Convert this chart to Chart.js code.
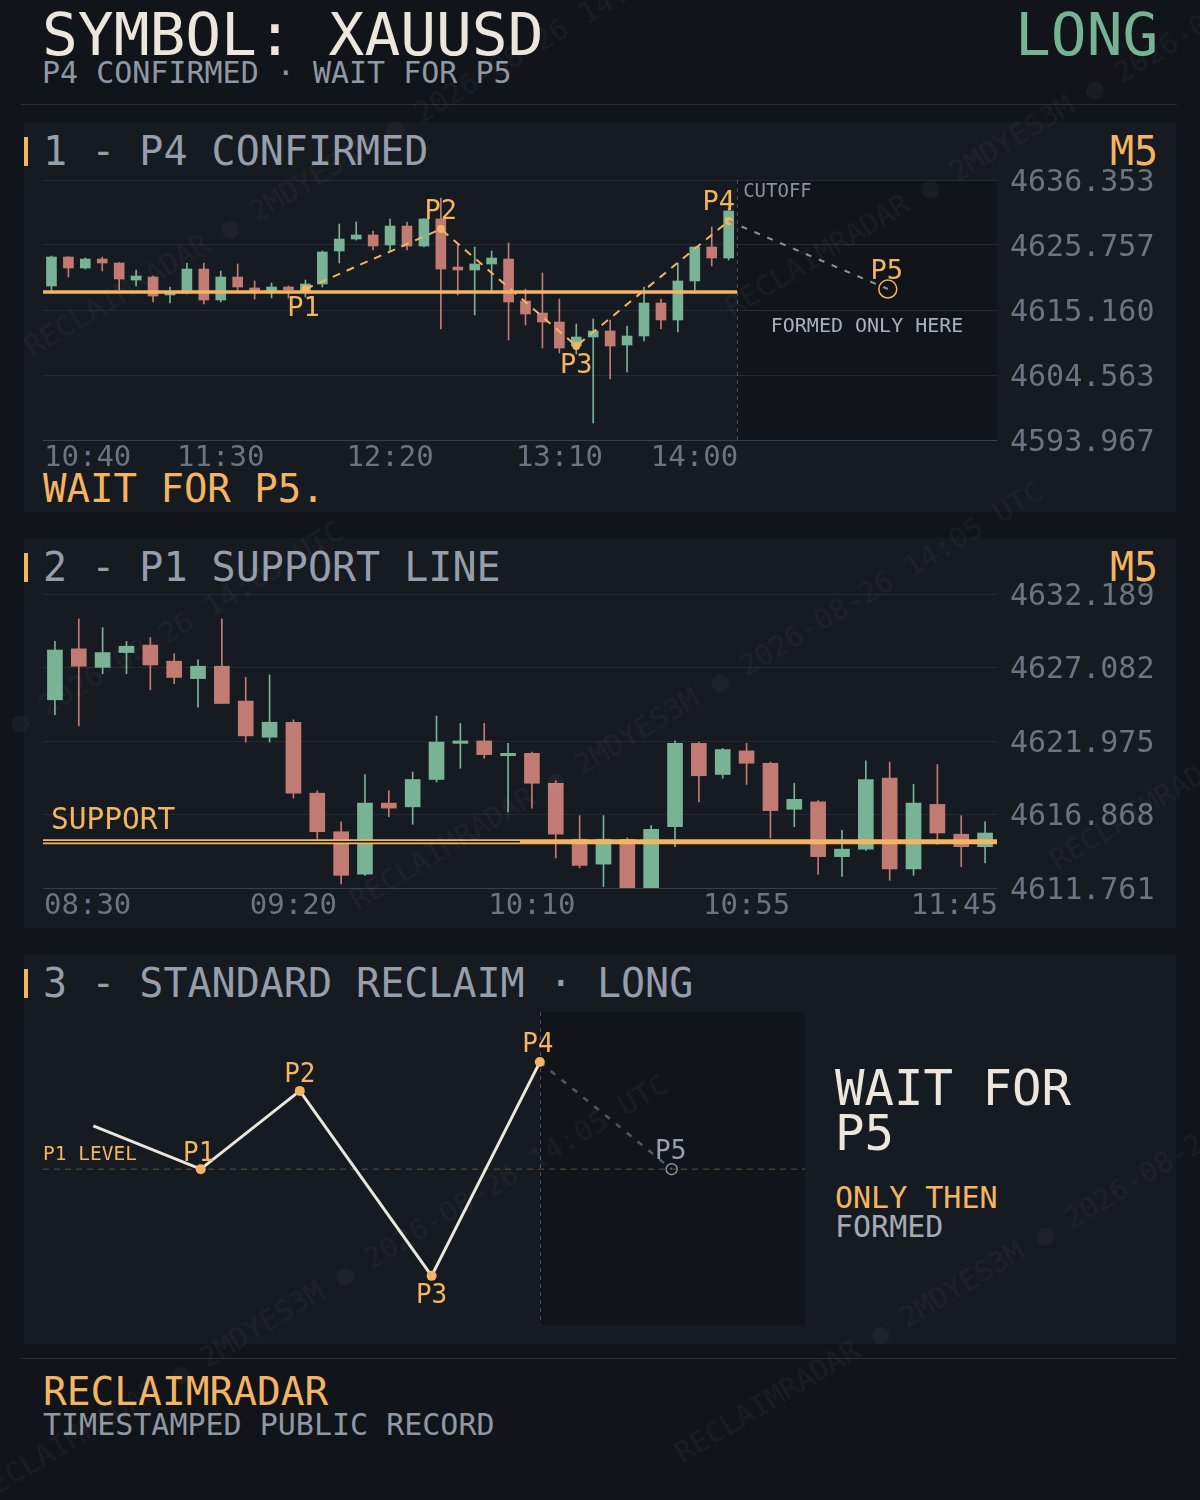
<!DOCTYPE html>
<html>
<head>
<meta charset="utf-8">
<script src="https://cdn.jsdelivr.net/npm/chart.js@4.4.1/dist/chart.umd.min.js"></script>
<style>
  body { margin:0; width:1200px; height:1500px; background:#111419; position:relative; overflow:hidden;
         font-family:"DejaVu Sans Mono", monospace; }
  .t { position:absolute; white-space:pre; }
  .panel { position:absolute; left:24px; width:1152px; height:390px; background:#161a21; }
  .bar { position:absolute; left:24px; width:4px; height:29px; background:#f4b562; }
  .rule { position:absolute; left:21px; width:1156px; height:1px; background:#2a2e35; }
  canvas { position:absolute; }
  #wm span { position:absolute; font-size:29px; line-height:29px; color:rgba(255,255,255,0.035);
             white-space:pre; transform:rotate(-31deg); transform-origin:0 0; }
</style>
</head>
<body>

<div class="t" style="left:42px;top:5px;font-size:59.5px;line-height:59.5px;color:#ece6dc">SYMBOL: XAUUSD</div>
<div class="t" style="left:1015px;top:5px;font-size:59.5px;line-height:59.5px;color:#76b393">LONG</div>
<div class="t" style="left:42px;top:58px;font-size:30px;line-height:30px;color:#8f98a4">P4 CONFIRMED · WAIT FOR P5</div>
<div class="rule" style="top:104px"></div>

<div class="panel" style="top:122px"></div>
<div class="panel" style="top:538px"></div>
<div class="panel" style="top:954px"></div>

<div class="bar" style="top:137px"></div>
<div class="t" style="left:43px;top:131px;font-size:40px;line-height:40px;color:#959eaa">1 - P4 CONFIRMED</div>
<div class="t" style="left:1110px;top:131px;font-size:40px;line-height:40px;color:#f4b562">M5</div>
<div class="t" style="left:43px;top:469px;font-size:39px;line-height:39px;color:#f4b562">WAIT FOR P5.</div>

<div class="bar" style="top:553px"></div>
<div class="t" style="left:43px;top:547px;font-size:40px;line-height:40px;color:#959eaa">2 - P1 SUPPORT LINE</div>
<div class="t" style="left:1110px;top:547px;font-size:40px;line-height:40px;color:#f4b562">M5</div>

<div class="bar" style="top:969px"></div>
<div class="t" style="left:43px;top:963px;font-size:40px;line-height:40px;color:#959eaa">3 - STANDARD RECLAIM · LONG</div>
<div class="t" style="left:835px;top:1066px;font-size:49px;line-height:45px;color:#ece6dc">WAIT FOR
P5</div>
<div class="t" style="left:835px;top:1183px;font-size:30px;line-height:30px;color:#f4b562">ONLY THEN</div>
<div class="t" style="left:835px;top:1212px;font-size:30px;line-height:30px;color:#a3abb6">FORMED</div>

<div class="rule" style="top:1358px"></div>
<div class="t" style="left:43px;top:1372px;font-size:39.5px;line-height:39.5px;color:#f4b562">RECLAIMRADAR</div>
<div class="t" style="left:43px;top:1410px;font-size:30px;line-height:30px;color:#8f98a4">TIMESTAMPED PUBLIC RECORD</div>

<canvas id="c1" width="1152" height="341" style="left:24px;top:149px"></canvas>
<canvas id="c2" width="1152" height="359" style="left:24px;top:563px"></canvas>
<canvas id="c3" width="800" height="340" style="left:24px;top:1000px"></canvas>

<div id="wm">
  <span style="left:20px;top:337px">RECLAIMRADAR ● 2MDYES3M ● 2026-08-26 14:05 UTC</span>
  <span style="left:720px;top:297px">RECLAIMRADAR ● 2MDYES3M ● 2026-08-26 14:05 UTC</span>
  <span style="left:345px;top:890px">RECLAIMRADAR ● 2MDYES3M ● 2026-08-26 14:05 UTC</span>
  <span style="left:1045px;top:850px">RECLAIMRADAR ● 2MDYES3M ● 2026-08-26 14:05 UTC</span>
  <span style="left:-355px;top:930px">RECLAIMRADAR ● 2MDYES3M ● 2026-08-26 14:05 UTC</span>
  <span style="left:670px;top:1443px">RECLAIMRADAR ● 2MDYES3M ● 2026-08-26 14:05 UTC</span>
  <span style="left:-30px;top:1483px">RECLAIMRADAR ● 2MDYES3M ● 2026-08-26 14:05 UTC</span>
</div>

<script>
const GREEN = '#78b396', RED = '#c27b73', ORANGE = '#f4b562';
const GRID = '#252a31', AXIS = '#3a3f46', TICK = '#6b7480';
const MONO = '"DejaVu Sans Mono", monospace';

// ---- panel 1: P4 confirmed (M5, 10:40 -> 14:00) ----
const p1Times = ['10:40', '11:30', '12:20', '13:10', '14:00'];
const p1TimeIdx = [0, 10, 20, 30, 40];
const p1Ticks = [4593.967, 4604.563, 4615.160, 4625.757, 4636.353];
// [open, high, low, close]
const p1Ohlc = [
  [4619.07, 4623.96, 4617.93, 4623.80], [4623.80, 4623.85, 4620.54, 4622.01],
  [4622.01, 4623.64, 4621.84, 4623.47], [4623.47, 4623.80, 4621.52, 4622.82],
  [4622.82, 4622.90, 4618.42, 4620.21], [4620.05, 4621.68, 4619.07, 4620.70],
  [4620.54, 4620.70, 4616.46, 4617.44], [4617.61, 4618.91, 4616.30, 4617.93],
  [4617.93, 4622.82, 4617.77, 4621.84], [4621.84, 4622.82, 4616.14, 4616.79],
  [4616.79, 4621.52, 4616.46, 4620.54], [4620.54, 4622.66, 4618.09, 4618.91],
  [4618.75, 4619.89, 4616.95, 4618.09], [4618.09, 4619.56, 4617.12, 4618.91],
  [4618.91, 4619.07, 4617.12, 4618.42], [4618.09, 4620.05, 4617.28, 4619.40],
  [4619.40, 4624.78, 4618.91, 4624.62], [4624.78, 4629.18, 4622.82, 4626.73],
  [4626.73, 4629.51, 4626.57, 4627.39], [4627.39, 4628.04, 4624.94, 4625.59],
  [4625.76, 4630.00, 4624.62, 4628.85], [4628.85, 4629.51, 4624.94, 4625.59],
  [4625.59, 4630.05, 4625.43, 4630.00], [4630.00, 4633.42, 4612.06, 4621.84],
  [4622.17, 4625.76, 4617.61, 4621.68], [4621.68, 4625.43, 4614.34, 4622.66],
  [4622.66, 4624.78, 4618.09, 4623.64], [4623.47, 4626.08, 4610.27, 4616.46],
  [4616.63, 4618.58, 4612.71, 4614.51], [4614.67, 4621.19, 4608.96, 4613.20],
  [4613.20, 4616.95, 4608.15, 4608.96], [4609.29, 4612.88, 4607.99, 4610.76],
  [4610.76, 4613.69, 4596.74, 4611.74], [4611.74, 4613.53, 4603.91, 4609.29],
  [4609.45, 4612.55, 4605.05, 4610.92], [4610.92, 4618.91, 4610.11, 4616.30],
  [4616.30, 4616.95, 4612.06, 4613.53], [4613.53, 4622.82, 4611.57, 4619.89],
  [4619.89, 4625.43, 4617.93, 4625.43], [4625.43, 4628.69, 4622.33, 4623.64],
  [4623.64, 4631.79, 4623.31, 4631.30]
];
const p1Support = 4618.09;
const p1Cutoff = 40.5;
const p1PivotLbl = ['P1', 'P2', 'P3', 'P4'];
const p1PivotIdx = [15, 23, 31, 40];
const p1PivotVal = [4618.58, 4628.37, 4609.29, 4629.67];
const p1P5Idx = 49.4;
const p1P5Val = 4618.58;

// ---- panel 2: P1 support line (M5, 08:30 -> 11:45) ----
const p2Times = ['08:30', '09:20', '10:10', '10:55', '11:45'];
const p2TimeIdx = [0, 10, 20, 29, 39];
const p2Ticks = [4611.761, 4616.868, 4621.975, 4627.082, 4632.189];
const p2Ohlc = [
  [4624.84, 4628.90, 4623.80, 4628.30], [4628.38, 4630.46, 4623.02, 4627.17],
  [4627.09, 4629.85, 4626.65, 4628.12], [4628.12, 4628.90, 4626.65, 4628.56],
  [4628.64, 4629.16, 4625.53, 4627.26], [4627.52, 4628.04, 4625.96, 4626.39],
  [4626.31, 4627.61, 4624.32, 4627.17], [4627.17, 4630.46, 4624.58, 4624.58],
  [4624.75, 4626.39, 4621.90, 4622.33], [4622.24, 4626.57, 4621.90, 4623.28],
  [4623.28, 4623.45, 4618.01, 4618.35], [4618.35, 4618.52, 4614.89, 4615.67],
  [4615.67, 4616.36, 4612.04, 4612.64], [4612.73, 4619.65, 4612.64, 4617.66],
  [4617.66, 4618.52, 4616.71, 4617.31], [4617.40, 4619.82, 4616.19, 4619.30],
  [4619.30, 4623.71, 4619.13, 4621.90], [4621.81, 4623.19, 4620.08, 4621.98],
  [4621.98, 4623.19, 4620.77, 4621.03], [4620.95, 4621.81, 4617.05, 4621.12],
  [4621.12, 4621.20, 4617.31, 4619.04], [4619.04, 4619.22, 4613.85, 4615.50],
  [4615.15, 4616.79, 4613.16, 4613.33], [4613.42, 4616.79, 4611.86, 4615.15],
  [4615.15, 4615.24, 4608.40, 4610.31], [4610.57, 4616.10, 4610.05, 4615.84],
  [4616.02, 4621.98, 4614.63, 4621.81], [4621.81, 4621.90, 4617.75, 4619.56],
  [4619.65, 4621.46, 4619.39, 4621.38], [4621.29, 4621.81, 4618.96, 4620.43],
  [4620.43, 4620.51, 4615.24, 4617.14], [4617.23, 4619.04, 4616.02, 4617.92],
  [4617.75, 4617.83, 4612.73, 4613.94], [4613.94, 4615.76, 4612.56, 4614.46],
  [4614.46, 4620.60, 4614.37, 4619.30], [4619.39, 4620.51, 4612.30, 4613.08],
  [4613.08, 4618.96, 4612.64, 4617.66], [4617.57, 4620.34, 4614.80, 4615.58],
  [4615.50, 4616.79, 4613.25, 4614.63], [4614.63, 4616.36, 4613.51, 4615.58]
];
const p2Support = 4614.98;
const p2HollowEnd = 19.5;

// ---- panel 3: standard reclaim schematic ----
const p3Lbl = ['', 'P1', 'P2', 'P3', 'P4'];
const p3X = [6.6, 20.7, 33.7, 51.0, 65.2];
const p3Y = [63.6, 49.8, 74.8, 15.7, 84.0];
const p3P5 = [82.5, 49.8];
const p3Level = 49.8;

function candleSets(ohlc, bodyW) {
  const col = ohlc.map(c => c[3] >= c[0] ? GREEN : RED);
  return [
    { type: 'bar', label: 'wick', data: ohlc.map((c, i) => ({ x: i, y: [c[2], c[1]] })),
      backgroundColor: col, barThickness: 1, grouped: false, order: 4 },
    { type: 'bar', label: 'body', data: ohlc.map((c, i) => ({ x: i, y: [c[0], c[3]] })),
      backgroundColor: col, barThickness: bodyW, minBarLength: 2, grouped: false, order: 3 }
  ];
}

function priceAxis(ticks) {
  return {
    position: 'right', min: ticks[0], max: ticks[ticks.length - 1], beginAtZero: false,
    afterBuildTicks: s => { s.ticks = ticks.map(v => ({ value: v })); },
    afterFit: s => { s.width = 179; },
    grid: { color: c => c.index === 0 ? AXIS : GRID, drawTicks: false, lineWidth: 1 },
    border: { display: false },
    ticks: { color: TICK, padding: 13, labelOffset: 3, font: { family: MONO, size: 30 },
             callback: v => v.toFixed(3) }
  };
}

function drawTimeLabels(chart, idx, lbls, rightLimit) {
  const { ctx, chartArea: a, scales: { x } } = chart;
  ctx.save();
  ctx.font = '29px ' + MONO;
  ctx.fillStyle = TICK;
  ctx.textBaseline = 'middle';
  idx.forEach((v, i) => {
    const w = ctx.measureText(lbls[i]).width;
    let px = x.getPixelForValue(v) - w / 2;
    px = Math.max(a.left + 1, Math.min(px, rightLimit - w));
    ctx.fillText(lbls[i], px, a.bottom + 18);
  });
  ctx.restore();
}

function metaOf(chart, label) {
  const i = chart.data.datasets.findIndex(d => d.label === label);
  return chart.getDatasetMeta(i);
}

function text(ctx, s, x, y, size, color, align) {
  ctx.font = size + 'px ' + MONO;
  ctx.fillStyle = color;
  ctx.textAlign = align || 'center';
  ctx.textBaseline = 'middle';
  ctx.fillText(s, x, y + 2);
}

function vDash(ctx, px, top, bottom) {
  ctx.save();
  ctx.strokeStyle = '#4a5059';
  ctx.lineWidth = 1;
  ctx.setLineDash([4, 4]);
  ctx.beginPath();
  ctx.moveTo(Math.round(px) + 0.5, top);
  ctx.lineTo(Math.round(px) + 0.5, bottom);
  ctx.stroke();
  ctx.restore();
}

// ---------- chart 1 ----------
const deco1 = {
  id: 'deco1',
  beforeDraw(chart) {
    const { ctx, chartArea: a, scales: { x } } = chart;
    const cx = x.getPixelForValue(p1Cutoff);
    ctx.save();
    ctx.fillStyle = '#111419';
    ctx.fillRect(cx, a.top, a.right - cx, a.bottom - a.top);
    ctx.restore();
  },
  beforeDatasetsDraw(chart) {
    const { ctx, chartArea: a, scales: { x } } = chart;
    vDash(ctx, x.getPixelForValue(p1Cutoff), a.top, a.bottom);
  },
  afterDatasetsDraw(chart) {
    const { ctx, chartArea: a, scales: { x, y } } = chart;
    const cx = x.getPixelForValue(p1Cutoff);
    const dy = [18, -19, 18, -20], dx = [-2, 0, 0, -10];
    const pts = metaOf(chart, 'pivots').data;
    ctx.save();
    pts.forEach((p, i) => text(ctx, p1PivotLbl[i], p.x + dx[i], p.y + dy[i], 27, ORANGE));
    const p5 = metaOf(chart, 'projection').data[1];
    text(ctx, 'P5', p5.x - 1, p5.y - 19, 27, ORANGE);
    text(ctx, 'CUTOFF', cx + 6, a.top + 10, 19, '#8a929c', 'left');
    text(ctx, 'FORMED ONLY HERE', (cx + a.right) / 2, y.getPixelForValue(p1Support) + 33, 20, '#a9b1bb');
    ctx.restore();
    drawTimeLabels(chart, p1TimeIdx, p1Times, cx + 1);
  }
};

new Chart(document.getElementById('c1'), {
  type: 'bar',
  data: {
    datasets: [
      ...candleSets(p1Ohlc, 10),
      { type: 'line', label: 'support', data: [{ x: -0.5, y: p1Support }, { x: p1Cutoff, y: p1Support }],
        borderColor: ORANGE, borderWidth: 3.5, pointRadius: 0, order: 2 },
      { type: 'line', label: 'pivots', data: p1PivotIdx.map((v, i) => ({ x: v, y: p1PivotVal[i] })),
        borderColor: ORANGE, borderWidth: 2, borderDash: [8, 7], pointRadius: 4,
        pointBackgroundColor: ORANGE, pointBorderWidth: 0, order: 1 },
      { type: 'line', label: 'projection',
        data: [{ x: p1PivotIdx[3], y: p1PivotVal[3] }, { x: p1P5Idx, y: p1P5Val }],
        borderColor: '#8a929c', borderWidth: 2, borderDash: [6, 8], pointRadius: [0, 9],
        pointBackgroundColor: 'rgba(0,0,0,0)', pointBorderColor: ORANGE, pointBorderWidth: 1.5, order: 0 }
    ]
  },
  options: {
    responsive: false, animation: false, devicePixelRatio: 1,
    layout: { padding: { left: 19, top: 31, right: 0, bottom: 50 } },
    plugins: { legend: { display: false }, tooltip: { enabled: false } },
    scales: {
      x: { type: 'linear', min: -0.5, max: 55.85, offset: false, display: false },
      y: priceAxis(p1Ticks)
    }
  },
  plugins: [deco1]
});

// ---------- chart 2 ----------
const deco2 = {
  id: 'deco2',
  afterDatasetsDraw(chart) {
    const { ctx, chartArea: a, scales: { y } } = chart;
    ctx.save();
    text(ctx, 'SUPPORT', a.left + 8, y.getPixelForValue(p2Support) - 22, 29.5, ORANGE, 'left');
    ctx.restore();
    drawTimeLabels(chart, p2TimeIdx, p2Times, a.right + 1);
  }
};

new Chart(document.getElementById('c2'), {
  type: 'bar',
  data: {
    datasets: [
      ...candleSets(p2Ohlc, 15),
      { type: 'line', label: 'support', data: [{ x: -0.5, y: p2Support }, { x: 39.5, y: p2Support }],
        borderColor: ORANGE, borderWidth: 5, pointRadius: 0, order: 1 },
      { type: 'line', label: 'hollow', data: [{ x: -0.5, y: p2Support }, { x: p2HollowEnd, y: p2Support }],
        borderColor: '#161a21', borderWidth: 1.5, pointRadius: 0, order: 0 }
    ]
  },
  options: {
    responsive: false, animation: false, devicePixelRatio: 1,
    layout: { padding: { left: 19, top: 31, right: 0, bottom: 34 } },
    plugins: { legend: { display: false }, tooltip: { enabled: false } },
    scales: {
      x: { type: 'linear', min: -0.5, max: 39.5, offset: false, display: false },
      y: priceAxis(p2Ticks)
    }
  },
  plugins: [deco2]
});

// ---------- chart 3 ----------
const deco3 = {
  id: 'deco3',
  beforeDraw(chart) {
    const { ctx, chartArea: a, scales: { x } } = chart;
    const cx = x.getPixelForValue(p3X[4]);
    ctx.save();
    ctx.fillStyle = '#111419';
    ctx.fillRect(cx, a.top, a.right - cx, a.bottom - a.top);
    ctx.restore();
    vDash(ctx, cx, a.top, a.bottom);
  },
  afterDatasetsDraw(chart) {
    const { ctx, chartArea: a, scales: { y } } = chart;
    const dy = [0, -17, -18, 18, -19], dx = [0, -2, 0, 0, -2];
    const pts = metaOf(chart, 'path').data;
    ctx.save();
    pts.forEach((p, i) => { if (p3Lbl[i]) text(ctx, p3Lbl[i], p.x + dx[i], p.y + dy[i], 26, ORANGE); });
    const p5 = metaOf(chart, 'projection').data[1];
    text(ctx, 'P5', p5.x - 1, p5.y - 19, 26, '#98a0aa');
    text(ctx, 'P1 LEVEL', a.left, y.getPixelForValue(p3Level) - 16, 19.5, ORANGE, 'left');
    ctx.restore();
  }
};

new Chart(document.getElementById('c3'), {
  type: 'line',
  data: {
    datasets: [
      { label: 'level', data: [{ x: 0, y: p3Level }, { x: 100, y: p3Level }],
        borderColor: 'rgba(244,181,98,0.38)', borderWidth: 1, borderDash: [6, 5], pointRadius: 0, order: 3 },
      { label: 'projection', data: [{ x: p3X[4], y: p3Y[4] }, { x: p3P5[0], y: p3P5[1] }],
        borderColor: '#4f565f', borderWidth: 2.5, borderDash: [6, 8], pointRadius: [0, 5.5],
        pointBackgroundColor: 'rgba(0,0,0,0)', pointBorderColor: '#8a929c', pointBorderWidth: 1.5, order: 2 },
      { label: 'path', data: p3X.map((v, i) => ({ x: v, y: p3Y[i] })),
        borderColor: '#ebe6dc', borderWidth: 3, pointRadius: [0, 5, 5, 5, 5],
        pointBackgroundColor: ORANGE, pointBorderWidth: 0, order: 1 }
    ]
  },
  options: {
    responsive: false, animation: false, devicePixelRatio: 1,
    layout: { padding: { left: 19, top: 12, right: 19, bottom: 15 } },
    plugins: { legend: { display: false }, tooltip: { enabled: false } },
    scales: {
      x: { type: 'linear', min: 0, max: 100, display: false },
      y: { type: 'linear', min: 0, max: 100, display: false }
    }
  },
  plugins: [deco3]
});
</script>
</body>
</html>
